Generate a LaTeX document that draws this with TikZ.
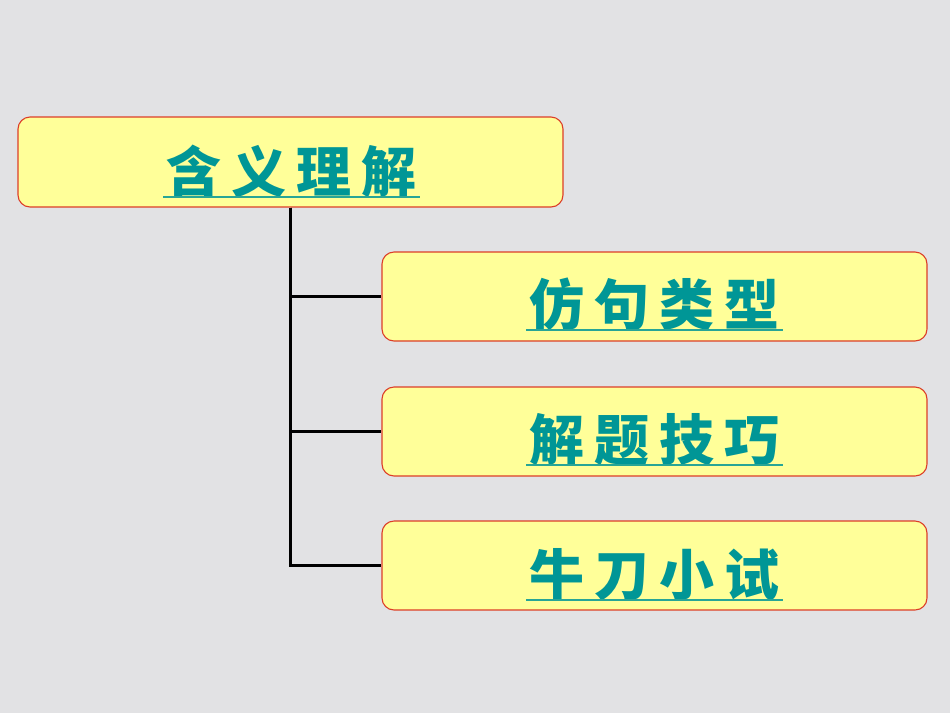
\documentclass[tikz,border=0pt]{standalone}
\usepackage{fontspec}
\newfontfamily\cjk{Noto Sans CJK SC}
\definecolor{bgmarble}{RGB}{226,226,228}
\definecolor{boxfill}{RGB}{255,255,153}
\definecolor{boxline}{RGB}{220,62,40}
\definecolor{tealtext}{RGB}{0,150,150}
\definecolor{tealline}{RGB}{40,165,150}
\tikzset{
  card/.style={draw=boxline, line width=1.1pt, fill=boxfill, rounded corners=12pt,
    minimum width=545pt, inner sep=0pt},
  lbl/.style={anchor=base, inner sep=0pt, text=tealtext,
    font=\cjk\bfseries\fontsize{55}{55}\selectfont},
  uline/.style={draw=tealline, line width=2pt},
  tree/.style={draw=black, line width=3pt}
}
\newcommand{\gp}{\hspace{10pt}}
\begin{document}
\begin{tikzpicture}[x=1pt,y=-1pt]
\useasboundingbox[fill=bgmarble] (0,0) rectangle (950,713);
% boxes
\node[card, minimum height=90pt] (m) at (290.5,162) {};
\node[card, minimum height=89pt] (c1) at (654.5,296.5) {};
\node[card, minimum height=89pt] (c2) at (654.5,431.5) {};
\node[card, minimum height=89pt] (c3) at (654.5,565.5) {};
% tree connectors
\draw[tree] (m.south) |- (c1.west);
\draw[tree] (m.south) |- (c2.west);
\draw[tree] (m.south) |- (c3.west);
% labels
\node[lbl] (mt) at (291.5,192) {含\gp 义\gp 理\gp 解};
\node[lbl] (t1) at (654.5,325) {仿\gp 句\gp 类\gp 型};
\node[lbl] (t2) at (654.5,460) {解\gp 题\gp 技\gp 巧};
\node[lbl] (t3) at (654.5,595) {牛\gp 刀\gp 小\gp 试};
% underlines
\foreach \t in {mt,t1,t2,t3}
  \draw[uline] ([xshift=-3pt,yshift=-5pt]\t.base west) -- ([xshift=3pt,yshift=-5pt]\t.base east);
\end{tikzpicture}
\end{document}
